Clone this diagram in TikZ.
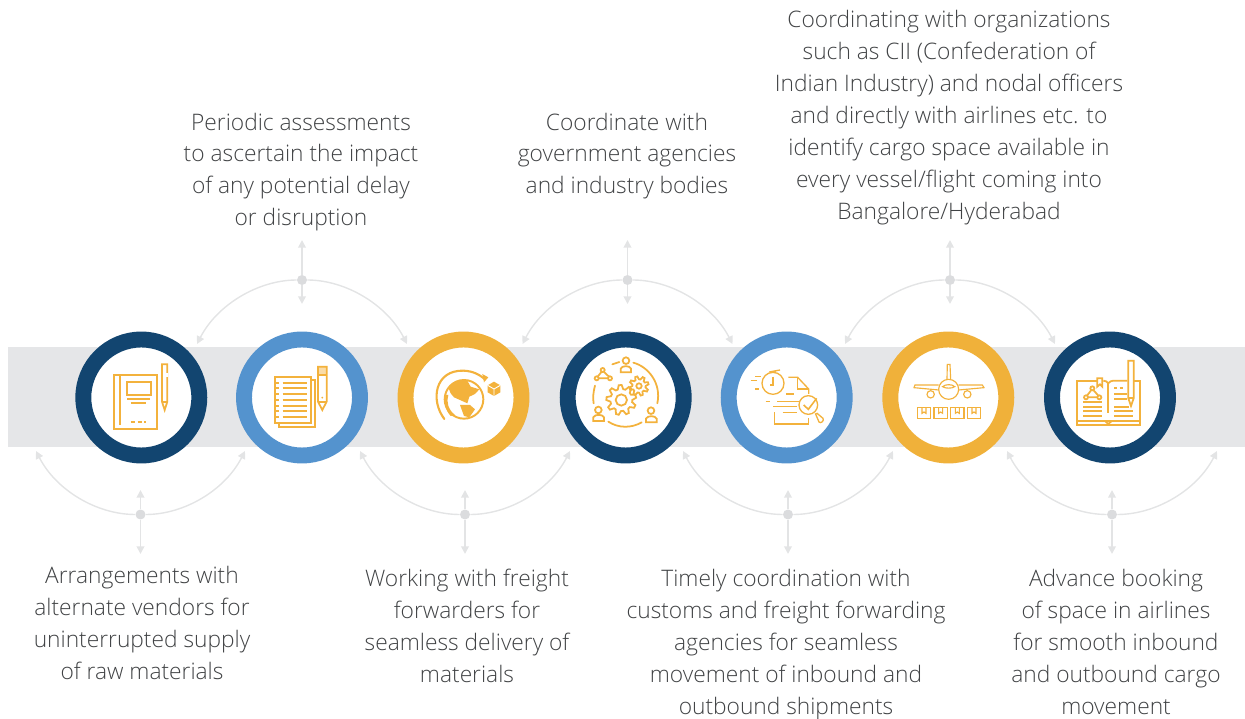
\documentclass[tikz,border=0pt]{standalone}
\usepackage{fontspec}
\setmainfont{Open Sans Light}
\usetikzlibrary{arrows.meta}
\definecolor{navy}{HTML}{124570}
\definecolor{skyb}{HTML}{5493CE}
\definecolor{amber}{HTML}{F0B13A}
\definecolor{iconc}{HTML}{F3B23C}
\definecolor{bandg}{HTML}{E5E6E8}
\definecolor{linkg}{HTML}{E3E4E5}
\definecolor{textg}{HTML}{404244}
\tikzset{
  ring/.style={circle,draw=#1,fill=white,line width=9.07pt,minimum size=2.32cm,inner sep=0pt},
  hub/.style={circle,fill=bandg!90!gray,minimum size=0.2cm,inner sep=0pt},
  arcl/.style={draw=linkg,line width=.8pt,-{Triangle[length=4.4pt,width=4.4pt]}},
  vert/.style={draw=linkg,line width=1pt,-{Triangle[length=4.4pt,width=4.4pt]}},
  txt/.style={align=center,text=textg,font=\fontsize{12.95}{18.14}\selectfont,inner sep=0pt},
  zoomed/.style={shift={(#1)},x=0.006667cm,y=-0.006667cm,draw=iconc,line width=1pt,line join=miter},
}
\newcommand{\gearshape}[5]{% cx cy R r n
  \pgfmathsetmacro{\st}{360/#5}
  \draw[shift={(#1,#2)}] (0:#3)
   \foreach \i in {1,...,#5}{
     \pgfextra{\pgfmathsetmacro{\aA}{(\i-1)*\st}\pgfmathsetmacro{\aB}{\aA+\st*.28}\pgfmathsetmacro{\aC}{\aA+\st*.5}\pgfmathsetmacro{\aD}{\aA+\st*.78}\pgfmathsetmacro{\aE}{\aA+\st}}
     -- (\aB:#3) -- (\aC:#4) -- (\aD:#4) -- (\aE:#3)
   } -- cycle;
}
\begin{document}
\begin{tikzpicture}[x=0.02cm,y=-0.02cm]
\useasboundingbox (0,0) rectangle (1245,719);
\fill[bandg] (8,347) rectangle (1245,447.5);

% rings
\node[ring=navy] (c1) at (141.3,397.5) {};
\node[ring=skyb] (c2) at (302,397.5) {};
\node[ring=amber] (c3) at (463.5,397.5) {};
\node[ring=navy] (c4) at (625.7,397.5) {};
\node[ring=skyb] (c5) at (786.7,397.5) {};
\node[ring=amber] (c6) at (948.3,397.5) {};
\node[ring=navy] (c7) at (1110,397.5) {};

% top connectors
\foreach \n/\x in {ta/302,tb/627.5,tc/950}{
  \node[hub] (\n) at (\x,280) {};
  \coordinate (\n u) at (\x,240);
  \coordinate (\n d) at (\x,304);
  \coordinate (\n l) at (\x-105,344);
  \coordinate (\n r) at (\x+105,344);
  \draw[vert] (\n) -- (\n u);
  \draw[vert] (\n) -- (\n d);
  \draw[arcl] (\n) .. controls +(-44,0) and +(20,-39) .. (\n l);
  \draw[arcl] (\n) .. controls +(44,0) and +(-20,-39) .. (\n r);
}
% bottom connectors
\foreach \n/\x/\w in {ba/140.5/104.5,bb/465/105,bc/788/105,bd/1112/105}{
  \node[hub] (\n) at (\x,514.5) {};
  \coordinate (\n u) at (\x,490);
  \coordinate (\n d) at (\x,554);
  \coordinate (\n l) at (\x-\w,451);
  \coordinate (\n r) at (\x+\w,451);
  \draw[vert] (\n) -- (\n u);
  \draw[vert] (\n) -- (\n d);
  \draw[arcl] (\n) .. controls +(-44,0) and +(20,39) .. (\n l);
  \draw[arcl] (\n) .. controls +(44,0) and +(-20,39) .. (\n r);
}

% texts
\node[txt] (t1) at (301,172) {Periodic assessments\\to ascertain the impact\\of any potential delay\\or disruption};
\node[txt] (t2) at (627,156) {Coordinate with\\government agencies\\and industry bodies};
\node[txt] (t3) at (949,117.5) {Coordinating with organizations\\such as CII (Confederation of\\Indian Industry) and nodal officers\\and directly with airlines etc. to\\identify cargo space available in\\every vessel/flight coming into\\Bangalore/Hyderabad};
\node[txt] (b1) at (142,623) {Arrangements with\\alternate vendors for\\uninterrupted supply\\of raw materials};
\node[txt] (b2) at (467,626) {Working with freight\\forwarders for\\seamless delivery of\\materials};
\node[txt] (b3) at (786,644.5) {Timely coordination with\\customs and freight forwarding\\agencies for seamless\\movement of inbound and\\outbound shipments};
\node[txt] (b4) at (1116,642) {Advance booking\\of space in airlines\\for smooth inbound\\and outbound cargo\\movement};

% icon 1
\begin{scope}[zoomed={60,320}]
\draw (163,165) rectangle (290,327);
\draw (180,168) -- (180,315);
\draw (200,187) rectangle (272,225);
\draw (202,237) -- (270,237);
\draw (213,249) -- (258,249);
\draw[dash pattern=on 2.2pt off 1.6pt] (213,305) -- (258,305);
\draw (306,133) -- (322,133) -- (322,245) -- (314,270) -- (306,245) -- cycle;
\draw (306,245) -- (322,245);
\draw[white] (322,160) -- (322,170);
\end{scope}

% icon 2
\begin{scope}[zoomed={60,320}]
\draw (644,170) rectangle (752,310);
\draw (752,180) -- (765,180) -- (765,321) -- (656,321) -- (656,310);
\foreach \y in {188,204,222,240,258,274,290}{
  \draw (668,\y) -- (742,\y);
  \draw (644,\y) -- (656,\y);
}
\fill[iconc!45] (774,140) rectangle (800,165);
\draw (774,140) -- (800,140) -- (800,245) -- (787,270) -- (774,245) -- cycle;
\draw (774,165) -- (800,165);
\draw (774,245) -- (800,245);
\fill[iconc] (787,233) circle (3);
\end{scope}

% icon 3
\begin{scope}[zoomed={380,320}]
\draw[line width=1.1pt] (252,238) circle (58);
\draw[line width=1.2pt,line cap=round] (193,297) .. controls (150,240) and (165,150) .. (250,152) .. controls (280,153) and (300,165) .. (315,178);
\fill[iconc] (307,162) -- (325,172) -- (312,187) -- cycle;
\fill[iconc] (206,205) .. controls (215,185) and (240,178) .. (262,182) -- (272,200) -- (298,208) -- (285,222) -- (268,230) -- (262,250) -- (240,240) -- (222,232) -- (212,220) -- cycle;
\fill[iconc] (240,255) -- (270,255) -- (285,268) -- (268,292) -- (252,288) -- cycle;
\fill[iconc] (205,225) .. controls (198,245) and (205,270) .. (225,285) -- (212,288) .. controls (195,270) and (192,245) .. (197,225) -- cycle;
\fill[iconc] (342,185) -- (361,196) -- (361,217) -- (342,228) -- (323,217) -- (323,196) -- cycle;
\draw[white,line width=.5pt] (323,196) -- (342,207) -- (361,196) (342,207) -- (342,228);
\end{scope}

% icon 4
\begin{scope}[zoomed={380,320}]
\gearshape{724}{240}{33}{45}{9}
\draw (724,240) circle (17);
\gearshape{777}{198}{20}{29}{8}
\draw (777,198) circle (8);
\draw (738,122) circle (10);
\draw (722,157) -- (722,146) .. controls (726,136) and (750,136) .. (753,146) -- (753,157) -- cycle;
\draw (655,270) circle (10);
\draw (640,303) -- (640,292) .. controls (644,282) and (668,282) .. (672,292) -- (672,303) -- cycle;
\draw (813,272) circle (10);
\draw (798,307) -- (798,296) .. controls (802,286) and (826,286) .. (830,296) -- (830,307) -- cycle;
\draw (668,150) circle (6);
\draw (650,175) circle (6);
\draw (690,175) circle (6);
\draw (665,155) -- (653,170) (671,155) -- (687,170) (656,175) -- (684,175);
\draw[line cap=round] (697,133) -- (718,126);
\draw[line cap=round] (760,128) .. controls (805,140) and (845,190) .. (832,250);
\draw[line cap=round] (645,197) .. controls (640,215) and (638,235) .. (641,250);
\draw[line cap=round] (685,305) .. controls (715,325) and (755,325) .. (785,307);
\end{scope}

% icon 5
\begin{scope}[zoomed={700,320},line width=.75pt]
\draw (219,190) circle (33);
\draw (208,156) -- (240,150);
\draw (226,157) -- (224,152);
\draw (219,170) -- (219,195) -- (210,195);
\draw (152,182) -- (170,182) (165,170) -- (182,170) (165,207) -- (178,207);
\draw (265,172) -- (293,172) -- (326,207) -- (326,222);
\draw (293,172) -- (293,207) -- (326,207);
\draw (258,222) -- (282,222);
\draw (197,245) -- (210,245) (232,245) -- (296,245);
\draw (220,260) -- (290,260);
\draw (248,277) -- (290,277);
\draw (223,277) -- (223,312) -- (326,312) -- (326,295);
\draw (325,255) circle (28);
\draw[line width=.9pt] (311,255) -- (325,268) -- (350,235);
\draw (346,280) -- (357,306) .. controls (362,312) and (374,302) .. (369,295) -- (350,279);
\end{scope}

% icon 6
\begin{scope}[zoomed={700,320},line width=.65pt]
\draw (746,208) circle (30);
\draw (741,178) -- (742,133) -- (750,133) -- (752,178);
\draw (716,195) -- (645,195) -- (642,203) -- (716,210);
\draw (776,195) -- (847,195) -- (852,203) -- (776,210);
\draw (692,223) circle (11);
\draw (802,223) circle (11);
\draw (728,200) .. controls (735,192) and (757,192) .. (764,200) .. controls (757,206) and (735,206) .. (728,200) -- cycle;
\foreach \x in {652,702,752,802}{
  \draw (\x,262) rectangle (\x+40,296);
  \draw (\x+14,262) -- (\x+14,280) -- (\x+20,276) -- (\x+26,280) -- (\x+26,262);
}
\end{scope}

% icon 7
\begin{scope}[zoomed={1020,320}]
\draw (230,182) -- (170,182) -- (170,315) -- (360,315) -- (360,182) -- (343,182);
\draw (250,182) .. controls (256,182) and (262,185) .. (265,190) .. controls (268,185) and (274,182) .. (280,182) -- (322,182);
\draw (265,190) -- (265,280);
\draw (170,302) -- (360,302);
\draw (255,303) -- (265,312) -- (275,303);
\draw (232,175) -- (247,175) -- (247,200) -- (240,193) -- (232,200) -- cycle;
\draw (217,205) circle (6);
\draw (198,232) circle (6);
\draw (238,232) circle (6);
\draw (214,210) -- (201,227) (220,210) -- (235,227) (204,232) -- (232,232);
\foreach \y in {245,260,274,288}{ \draw (190,\y) -- (245,\y); }
\draw (283,205) -- (292,205) (299,205) -- (308,205);
\draw (283,222) -- (322,222) (283,238) -- (322,238) (283,260) -- (328,260) (283,274) -- (338,274) (283,288) -- (338,288);
\draw (325,122) -- (341,122) -- (341,235) -- (333,258) -- (325,235) -- cycle;
\draw (325,235) -- (341,235);
\end{scope}
\end{tikzpicture}
\end{document}
